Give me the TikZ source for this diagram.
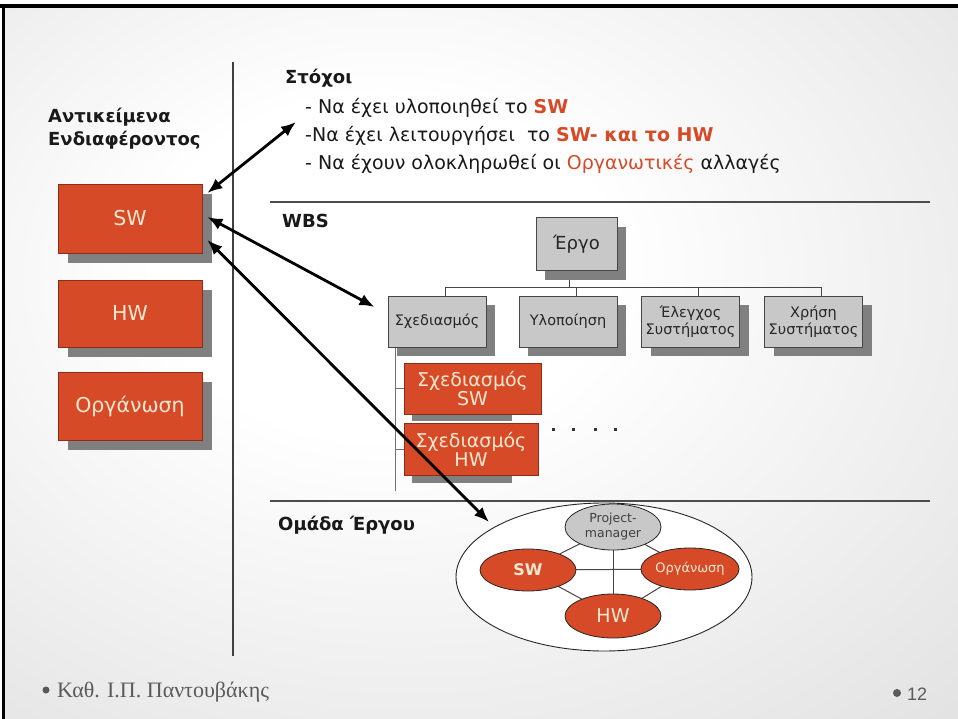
\documentclass[tikz,border=0pt]{standalone}
\usepackage{fontspec}
\setmainfont{DejaVu Sans}
\newfontfamily\footfont{Liberation Serif}
\newfontfamily\numfont{Liberation Sans}
\usetikzlibrary{arrows.meta,shapes.geometric,shadows,calc}
\definecolor{orng}{RGB}{214,74,40}
\definecolor{orngdark}{RGB}{140,45,25}
\definecolor{cream}{RGB}{252,232,208}
\definecolor{boxgray}{RGB}{200,200,200}
\definecolor{shadowgray}{RGB}{128,128,128}
\definecolor{linegray}{RGB}{70,70,70}
\definecolor{footgray}{RGB}{90,90,90}
\pgfdeclareradialshading{bgshade}{\pgfpoint{-6bp}{8bp}}{color(0bp)=(white); color(12bp)=(white); color(55bp)=(black!17); color(80bp)=(black!17)}
\pgfdeclarelayer{bglayer}
\pgfdeclarelayer{background}
\pgfsetlayers{bglayer,background,main}
\tikzset{
  txt/.style={anchor=base west, inner sep=0pt, text=black!90},
  hfont/.style={font=\bfseries\fontsize{18}{21}\selectfont},
  gfont/.style={font=\fontsize{19}{21}\selectfont},
  obox/.style={draw=orngdark, line width=0.8pt, fill=orng, text=cream, inner sep=0pt,
    minimum width=144pt, font=\fontsize{20.5}{24}\selectfont,
    drop shadow={shadow xshift=10pt, shadow yshift=-10pt, fill=shadowgray, opacity=1}},
  gbox/.style={draw=linegray, line width=1pt, fill=boxgray, text=black!85, inner sep=0pt,
    minimum width=98pt, minimum height=51pt, align=center, font=\fontsize{14.5}{16.5}\selectfont,
    drop shadow={shadow xshift=9pt, shadow yshift=-9pt, fill=shadowgray, opacity=1}},
  sbox/.style={draw=orngdark, line width=0.8pt, fill=orng, text=cream, inner sep=0pt, align=center,
    font=\fontsize{19}{19}\selectfont},
  teamell/.style={ellipse, draw=black!85, line width=0.8pt, fill=orng, text=cream, inner sep=0pt},
  dblarrow/.style={{Latex[length=15pt,width=12pt]}-{Latex[length=15pt,width=12pt]}, line width=2.8pt, black},
  tline/.style={draw=linegray, line width=1pt},
  sline/.style={draw=black!55, line width=1pt},
  sepline/.style={draw=black!70, line width=1.8pt},
}
\begin{document}
\begin{tikzpicture}[x=1pt,y=-1pt]
\useasboundingbox (0,0) rectangle (958,719);
\begin{pgfonlayer}{bglayer}
  \fill[white] (0,0) rectangle (958,719);
  \shade[shading=bgshade] (4,7) rectangle (958,719);
  \fill[black] (0,4) rectangle (958,8);
  \fill[black] (2,4) rectangle (4.5,719);
  \node[ellipse, draw=black!85, line width=0.9pt, fill=white, minimum width=296pt, minimum height=148pt] (team) at (604,577) {};
\end{pgfonlayer}

% separators
\draw[draw=black!75, line width=1.3pt] (233,62) -- (233,656);
\draw[sepline] (270,202) -- (930,202);
\draw[sepline] (270,501) -- (930,501);

% left column
\node[txt, hfont] (lh1) at (48,123) {Αντικείμενα};
\node[txt, hfont] (lh2) at (48,146) {Ενδιαφέροντος};
\node[obox, minimum height=69pt] (sw) at (130,218.5) {SW};
\node[obox, minimum height=67pt] (hw) at (130,313.5) {HW};
\node[obox, minimum height=68pt] (org) at (130,406) {Οργάνωση};

% goals
\node[txt, hfont] (goalsh) at (285,84) {Στόχοι};
\node[txt, gfont] (g1) at (305,114) {- Να έχει υλοποιηθεί το \textbf{\textcolor{orng}{SW}}};
\node[txt, gfont] (g2) at (305,142) {-Να έχει λειτουργήσει\ \ το \textbf{\textcolor{orng}{SW- και το HW}}};
\node[txt, gfont] (g3) at (305,170) {- Να έχουν ολοκληρωθεί οι \textcolor{orng}{Οργανωτικές} αλλαγές};

% WBS
\node[txt, hfont] (wbsh) at (282,228) {WBS};
\node[gbox, minimum width=81pt, minimum height=53pt, font=\fontsize{18}{20}\selectfont] (ergo) at (576.5,244.5) {Έργο};
\node[gbox] (c1) at (437,321.5) {Σχεδιασμός};
\node[gbox] (c2) at (568,321.5) {Υλοποίηση};
\node[gbox] (c3) at (690.5,321.5) {Έλεγχος\\Συστήματος};
\node[gbox] (c4) at (813.5,321.5) {Χρήση\\Συστήματος};
\node[sbox, minimum width=137pt, minimum height=51pt] (s1) at (472.5,388.5) {Σχεδιασμός\\SW};
\node[sbox, minimum width=134pt, minimum height=52pt] (s2) at (471,449) {Σχεδιασμός\\HW};
\coordinate (spine) at ([xshift=8pt]c1.south west);
\begin{pgfonlayer}{background}
  \draw[tline] ([xshift=-7pt]ergo.south) -- ([xshift=-7pt,yshift=8pt]ergo.south |- c1.north);
  \draw[tline] ([xshift=8pt]c1.north) -- ++(0,-8) -- ([xshift=8pt,yshift=8pt]c4.north) -- ([xshift=8pt]c4.north);
  \draw[tline] ([xshift=8pt]c2.north) -- ++(0,-8);
  \draw[tline] ([xshift=8pt]c3.north) -- ++(0,-8);
  \draw[sline] (spine) -- ++(0,143);
  \draw[sline] (spine |- s1.west) -- (s1.west);
  \draw[sline] (spine |- s2.west) -- (s2.west);
  \fill[shadowgray] ([xshift=8pt]s1.south west) rectangle ([xshift=108pt,yshift=-7pt]s1.south west);
  \fill[shadowgray] ([xshift=8pt]s2.south west) rectangle ([xshift=108pt,yshift=-8pt]s2.south west);
\end{pgfonlayer}
\foreach \dx in {553,573,595,615} \fill[black!80] (\dx-1.5,427.5) rectangle ++(3,3);

% team
\node[txt, hfont] (teamh) at (278,530) {Ομάδα Έργου};
\node[teamell, fill=boxgray, text=black!75, minimum width=96pt, minimum height=46pt, align=center, font=\fontsize{12.5}{15}\selectfont] (pm) at (613,527) {Project-\\manager};
\node[teamell, minimum width=96pt, minimum height=42pt, font=\bfseries\fontsize{16}{18}\selectfont] (tsw) at (528,570) {SW};
\node[teamell, minimum width=94pt, minimum height=42pt, font=\fontsize{13}{14}\selectfont] (torg) at (690,569) {Οργάνωση};
\node[teamell, minimum width=96pt, minimum height=44pt, font=\fontsize{19}{22}\selectfont] (thw) at (613,616) {HW};
\begin{pgfonlayer}{background}
  \draw[tline] (pm.center) -- (tsw.center);
  \draw[tline] (pm.center) -- (torg.center);
  \draw[tline] (pm.center) -- (thw.center);
  \draw[tline] (tsw.center) -- (torg.center);
  \draw[tline] (tsw.center) -- (thw.center);
  \draw[tline] (torg.center) -- (thw.center);
\end{pgfonlayer}

% arrows
\draw[dblarrow] ($(sw.east)+(5,-25.5)$) -- ($(g1.base west)+(-9,8)$);
\draw[dblarrow] ($(sw.east)+(5,-1.5)$) -- ($(c1.west)+(-13,-14.5)$);
\draw[dblarrow] ($(sw.east)+(5,21.5)$) -- ($(team.center)+(-115,-55)$);

% footer
\fill[footgray] (46,690) circle (3.5);
\node[anchor=base west, inner sep=0pt, font=\footfont\fontsize{22}{24}\selectfont, text=footgray] (foot) at (57,697) {Καθ. Ι.Π. Παντουβάκης};
\fill[footgray] (897,693) circle (4);
\node[anchor=base west, inner sep=0pt, font=\numfont\fontsize{18}{20}\selectfont, text=footgray] (pgnum) at (907,700) {12};
\end{tikzpicture}
\end{document}
